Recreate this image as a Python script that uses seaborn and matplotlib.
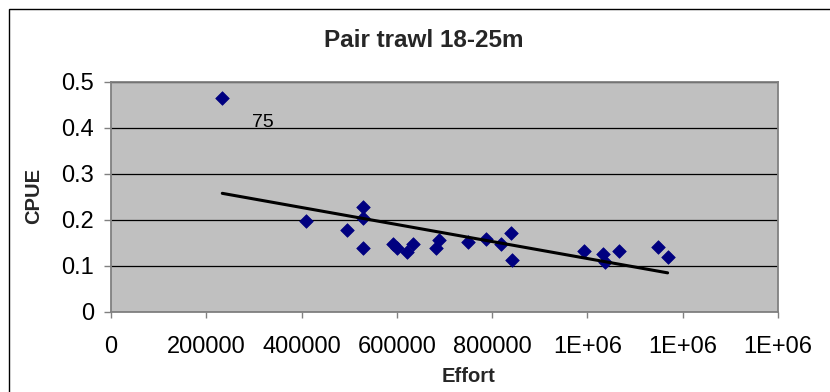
import matplotlib
matplotlib.use("Agg")
import matplotlib.pyplot as plt
import seaborn as sns
import numpy as np
import pandas as pd
from matplotlib.patches import Rectangle

effort = [233600, 408600, 494600, 529500, 529500, 529500, 591200, 599600,
          621900, 633200, 681400, 689000, 748600, 787000, 818500, 838800,
          842300, 992100, 1032500, 1036000, 1066700, 1148600, 1168300]
cpue = [0.465, 0.197, 0.178, 0.228, 0.203, 0.139, 0.147, 0.139,
        0.129, 0.147, 0.139, 0.156, 0.151, 0.159, 0.147, 0.170,
        0.112, 0.133, 0.125, 0.107, 0.133, 0.140, 0.120]
x_ticks = [0, 200000, 400000, 600000, 800000, 1000000, 1200000, 1400000]
x_tick_labels = ["0", "200000", "400000", "600000", "800000", "1E+06", "1E+06", "1E+06"]
y_ticks = [0, 0.1, 0.2, 0.3, 0.4, 0.5]
y_tick_labels = ["0", "0.1", "0.2", "0.3", "0.4", "0.5"]
title = "Pair trawl 18-25m"
x_label = "Effort"
y_label = "CPUE"
point_label = "75"
point_label_pos = (319600, 0.402)

df = pd.DataFrame({"Effort": effort, "CPUE": cpue})

sns.set_theme(style="white")
plt.rcParams['font.family'] = ['Liberation Sans', 'DejaVu Sans']

W, H = 830, 392
fig = plt.figure(figsize=(W / 100, H / 100), dpi=100)
ax = fig.add_axes([111 / W, (H - 311.7) / H, (778 - 111) / W, (311.7 - 81.7) / H])
ax.set_facecolor("#C0C0C0")

sns.regplot(data=df, x="Effort", y="CPUE", ax=ax, ci=None, truncate=True,
            marker="D",
            scatter_kws=dict(s=48, color="#000080", edgecolors="#000080",
                             linewidths=0.5, alpha=1.0, zorder=3),
            line_kws=dict(color="black", lw=2.2, zorder=4))

ax.set_xlim(0, 1400000)
ax.set_ylim(0, 0.5)
ax.set_xticks(x_ticks)
ax.set_xticklabels(x_tick_labels)
ax.set_yticks(y_ticks)
ax.set_yticklabels(y_tick_labels)
ax.yaxis.grid(True, color="black", lw=0.9)
ax.xaxis.grid(False)
ax.set_axisbelow(True)
for s in ax.spines.values():
    s.set_color("#808080")
    s.set_linewidth(1.3)

ax.tick_params(axis="both", which="major", labelsize=17, colors="#808080",
               labelcolor="black", width=1.0)
ax.tick_params(axis="y", length=5, pad=7, direction="out", left=True)
ax.tick_params(axis="x", length=4.5, pad=13, direction="out", bottom=True)
ax.set_xlabel("")
ax.set_ylabel("")

ax.text(point_label_pos[0], point_label_pos[1], point_label, ha="center",
        va="baseline", fontsize=14, color="black")

fig.text(423.5 / W, 1 - 40.5 / H, title, ha="center", va="center",
         fontsize=17.5, fontweight="bold")
fig.text(468 / W, 1 - 376 / H, x_label, ha="center", va="center",
         fontsize=14.5, fontweight="bold")
fig.text(33.5 / W, 1 - 196 / H, y_label, ha="center", va="center",
         rotation=90, fontsize=14.5, fontweight="bold")

fig.patches.append(Rectangle((8.5 / W, -0.1), 1.2, 1.1 - 9.3 / H,
                             transform=fig.transFigure, fill=False,
                             edgecolor="black", lw=1.0))

fig.savefig("out.png", dpi=100)
